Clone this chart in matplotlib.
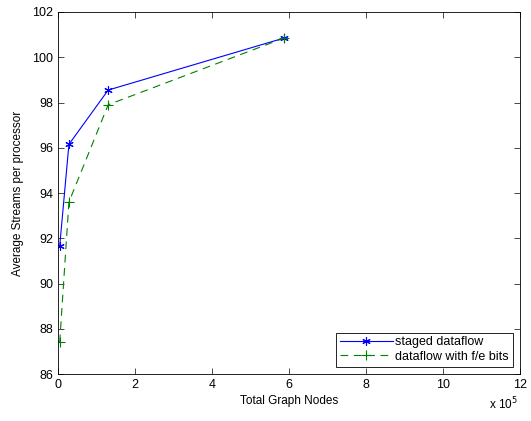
import matplotlib.pyplot as plt
from matplotlib.ticker import FuncFormatter, MultipleLocator

plt.rcParams["font.family"] = ["Liberation Sans", "DejaVu Sans"]
plt.rcParams["font.size"] = 9

# data
staged_nodes = [4000, 28000, 130000, 587000]
staged_streams = [91.65, 96.15, 98.55, 100.85]
fe_nodes = [4000, 28000, 130000, 587000]
fe_streams = [87.4, 93.6, 97.9, 100.85]

fig = plt.figure(figsize=(5.31, 4.21), dpi=100)
ax = fig.add_axes([0.1095, 0.1116, 0.8700, 0.8599])

ax.plot(staged_nodes, staged_streams, "-", color="#0000ff", lw=0.8,
        marker=(6, 2, 0), ms=6, mew=0.8, label="staged dataflow")
ax.plot(fe_nodes, fe_streams, "--", color="#008000", lw=0.8, dashes=(7, 5),
        marker="+", ms=7, mew=0.8, label="dataflow with f/e bits")

ax.set_xlim(0, 1200000)
ax.set_ylim(86, 102)
ax.xaxis.set_major_locator(MultipleLocator(200000))
ax.yaxis.set_major_locator(MultipleLocator(2))
ax.xaxis.set_major_formatter(FuncFormatter(lambda v, p: f"{v / 1e5:g}"))
ax.tick_params(direction="in", length=4, width=0.5, top=True, right=True,
               labelsize=9)
for s in ax.spines.values():
    s.set_linewidth(0.6)

ax.set_xlabel("Total Graph Nodes", fontsize=8.5, labelpad=3)
ax.set_ylabel("Average Streams per processor", fontsize=8.5, labelpad=6)
fig.text(0.975, 0.028, r"x 10$^5$", ha="right", va="baseline", fontsize=8.5)

leg = ax.legend(loc="lower right", fontsize=9, fancybox=False, framealpha=1,
                edgecolor="black", borderpad=0.3, handlelength=4.2,
                borderaxespad=0.6, labelspacing=0.2, handletextpad=0.2)
leg.get_frame().set_linewidth(0.6)

fig.savefig("out.png", dpi=100)
